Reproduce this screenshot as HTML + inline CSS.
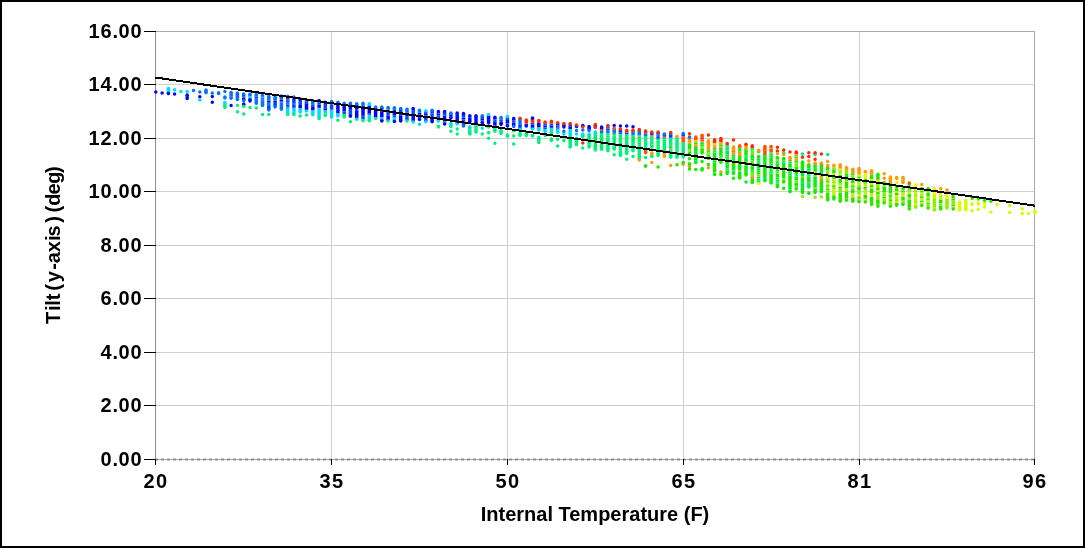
<!DOCTYPE html>
<html><head><meta charset="utf-8"><title>Tilt vs Internal Temperature</title>
<style>
html,body{margin:0;padding:0;background:#fff;}
body{width:1085px;height:548px;overflow:hidden;position:relative;}
#frame{position:absolute;left:0;top:0;width:1081px;height:544px;border:2px solid #000;background:#fff;}
svg{position:absolute;left:0;top:0;}
text{font-family:"Liberation Sans",Arial,sans-serif;font-weight:bold;font-size:20px;fill:#000;}
</style></head><body><div id="frame"></div>
<svg width="1085" height="548" viewBox="0 0 1085 548" shape-rendering="crispEdges">
<path d="M155 84.5H1034M155 138.5H1034M155 191.5H1034M155 245.5H1034M155 298.5H1034M155 352.5H1034M155 405.5H1034M331.5 31V459M507.5 31V459M683.5 31V459M859.5 31V459" stroke="#cfcfcf" stroke-width="1" fill="none"/>
<path d="M155 459.5H1034" stroke="#ababab" stroke-width="1"/>
<path d="M155 459.5H1034" stroke="#878787" stroke-width="1" stroke-dasharray="3 3"/>
<path d="M155 458.5H1034M155 460.5H1034" stroke="#cfcfcf" stroke-width="1" stroke-dasharray="3 3"/>
<path d="M155 31.5H1035M1034.5 31V459" stroke="#a8a8a8" stroke-width="1" fill="none"/>
<path d="M155.5 31V459" stroke="#8c8c8c" stroke-width="1"/>
<path d="M168.4 88.60V92.60M224.9 102.60V103.75M250.0 96.30V98.15M262.5 96.50V97.50M287.7 107.75V113.45M293.9 108.55V113.00M300.2 108.30V111.90M306.5 109.95V111.10M312.8 110.35V114.80M319.1 107.85V117.50M325.3 110.35V113.20M331.6 109.50V116.90M337.9 113.20V115.90M369.3 103.70V105.75M369.3 114.70V119.15M381.8 117.35V119.50M394.4 117.25V120.70M413.2 121.00V122.10M425.8 110.70V111.25M425.8 121.35V121.70M438.4 120.30V121.00M444.6 121.55V122.55M450.9 123.20V125.80M457.2 123.50V124.00M469.8 126.70V129.70M488.6 114.60V115.30M507.4 116.40V117.35M520.0 128.95V129.30M532.5 128.60V129.00M538.8 127.35V129.90M545.1 128.95V131.50M551.4 127.85V131.25M557.7 128.60V132.30M570.2 128.95V135.95M582.8 134.10V134.85M589.1 134.10V134.85M595.3 131.90V133.00" stroke="#00dcff" stroke-width="3.5" stroke-linecap="butt" fill="none" shape-rendering="auto"/>
<path d="M168.4 92.60V93.60M187.2 94.90V96.00M187.2 97.85V98.60M231.1 96.50V97.50M237.4 95.65V96.65M243.7 97.40V100.00M243.7 104.00V105.30M250.0 98.15V100.15M250.0 100.15V101.10M262.5 99.50V100.50M268.8 100.75V102.00M275.1 100.75V102.00M281.4 99.50V101.50M287.7 99.50V100.50M300.2 104.90V106.90M300.2 106.90V108.30M306.5 103.25V105.25M306.5 105.25V107.25M306.5 107.25V109.95M312.8 106.25V108.25M312.8 108.25V110.35M319.1 100.40V102.40M319.1 104.40V106.40M319.1 106.40V107.85M325.3 108.20V110.35M331.6 108.25V109.50M337.9 104.25V106.25M337.9 106.25V108.25M337.9 108.25V110.25M337.9 110.25V112.25M337.9 112.25V113.20M344.2 105.25V107.25M344.2 107.25V109.25M344.2 109.25V111.25M350.4 106.90V108.90M356.7 104.90V106.90M356.7 106.90V108.90M356.7 110.90V112.90M356.7 112.90V114.90M356.7 114.90V116.90M356.7 116.90V118.40M363.0 105.75V107.75M363.0 107.75V109.75M363.0 109.75V111.75M363.0 111.75V113.75M363.0 113.75V115.75M369.3 105.75V107.75M369.3 107.75V109.75M369.3 109.75V111.75M369.3 111.75V113.75M375.6 107.85V109.85M375.6 109.85V111.85M375.6 111.85V113.85M375.6 113.85V115.85M375.6 115.85V117.65M381.8 107.20V109.20M381.8 111.20V113.20M381.8 113.20V115.20M381.8 115.20V117.35M381.8 119.50V121.00M388.1 115.80V117.80M388.1 117.80V119.80M388.1 119.80V120.80M394.4 111.25V113.25M394.4 113.25V115.25M400.7 115.90V117.90M400.7 117.90V119.90M400.7 119.90V121.00M407.0 112.75V114.75M407.0 114.75V116.75M413.2 114.50V116.50M413.2 116.50V118.50M413.2 118.50V121.00M419.5 112.75V114.75M425.8 113.25V115.25M425.8 119.25V121.35M432.1 117.25V119.25M432.1 119.25V121.70M438.4 113.40V115.40M438.4 119.40V120.30M444.6 115.40V117.40M444.6 117.40V119.40M444.6 119.40V121.55M450.9 114.85V116.85M457.2 115.10V117.10M457.2 117.10V119.10M457.2 119.10V121.10M457.2 121.10V123.50M463.5 117.50V119.50M463.5 121.50V123.80M469.8 117.70V119.70M469.8 119.70V121.60M476.0 115.70V117.70M476.0 117.70V119.70M476.0 119.70V121.70M476.0 121.70V123.80M482.3 118.25V120.25M482.3 122.25V123.10M488.6 115.30V117.30M488.6 117.30V119.30M488.6 119.30V121.30M488.6 121.30V123.10M494.9 117.20V119.20M494.9 121.20V123.20M494.9 123.20V125.20M494.9 127.20V128.20M501.1 121.60V123.60M501.1 123.60V124.50M507.4 119.35V121.35M507.4 121.35V123.35M513.7 118.60V120.60M513.7 122.60V124.60M513.7 124.60V126.00M532.5 124.65V126.65M532.5 126.65V128.60M538.8 122.70V124.70M538.8 124.70V127.35M545.1 125.40V127.40M551.4 125.40V127.85M557.7 123.40V125.40M557.7 127.40V128.60M563.9 124.15V126.15M570.2 126.90V128.95M576.5 124.90V126.40M582.8 125.60V127.10M589.1 126.40V128.40M589.1 128.40V129.30M595.3 124.90V127.25M601.6 127.10V128.95" stroke="#0008ff" stroke-width="3.5" stroke-linecap="butt" fill="none" shape-rendering="auto"/>
<path d="M187.2 96.00V97.85M281.4 101.50V102.50M300.2 98.90V100.90M300.2 100.90V102.90M300.2 102.90V104.90M312.8 104.25V106.25M319.1 102.40V104.40M325.3 102.20V104.20M325.3 104.20V106.20M325.3 106.20V108.20M331.6 104.25V106.25M331.6 106.25V108.25M344.2 111.25V114.00M350.4 104.90V106.90M350.4 108.90V110.90M350.4 110.90V112.90M350.4 112.90V114.90M350.4 114.90V116.20M356.7 108.90V110.90M363.0 115.75V117.75M363.0 117.75V119.15M369.3 113.75V114.70M381.8 109.20V111.20M388.1 109.80V111.80M388.1 111.80V113.80M388.1 113.80V115.80M394.4 115.25V117.25M394.4 120.70V121.40M400.7 111.90V113.90M400.7 113.90V115.90M407.0 116.75V118.75M407.0 118.75V120.10M413.2 108.50V110.50M413.2 110.50V112.50M413.2 112.50V114.50M419.5 114.75V116.75M419.5 116.75V119.50M425.8 111.25V113.25M425.8 115.25V117.25M425.8 117.25V119.25M432.1 113.25V115.25M432.1 115.25V117.25M438.4 111.40V113.40M438.4 115.40V117.40M438.4 117.40V119.40M444.6 111.40V113.40M444.6 113.40V115.40M444.6 122.55V124.00M450.9 116.85V118.10M457.2 113.10V115.10M463.5 113.50V115.50M463.5 115.50V117.50M463.5 119.50V121.50M469.8 115.70V117.70M482.3 120.25V122.25M494.9 119.20V121.20M494.9 125.20V127.20M507.4 117.35V119.35M507.4 123.35V126.00M513.7 120.60V122.60M526.3 123.45V126.00M532.5 117.90V118.65M532.5 122.65V124.65M545.1 123.40V125.40M545.1 127.40V128.95M551.4 123.40V125.40M557.7 125.40V127.40M563.9 126.15V127.10M570.2 124.90V126.90" stroke="#0a48ff" stroke-width="3.5" stroke-linecap="butt" fill="none" shape-rendering="auto"/>
<path d="M206.0 90.10V92.70M218.6 92.70V93.40M224.9 97.10V97.90M231.1 92.60V94.60M231.1 94.60V96.50M231.1 97.50V98.20M237.4 96.65V98.65M243.7 96.10V97.40M250.0 94.10V96.30M256.3 94.50V96.50M256.3 98.50V100.50M256.3 100.50V102.50M262.5 95.20V96.50M262.5 97.50V99.50M262.5 100.50V102.50M262.5 102.50V104.50M268.8 96.30V98.30M268.8 98.30V100.75M268.8 102.00V104.00M268.8 104.00V106.00M275.1 97.10V99.10M275.1 99.10V100.75M275.1 106.00V107.00M281.4 97.90V99.50M281.4 102.50V104.50M281.4 104.50V106.50M281.4 106.50V109.20M287.7 102.50V104.50M287.7 106.50V107.75M293.9 97.10V99.10M293.9 103.10V105.10M293.9 107.10V108.55M312.8 100.70V102.70M312.8 102.70V104.25M331.6 101.50V104.25M337.9 102.20V104.25M344.2 103.30V105.25M356.7 103.70V104.90M363.0 103.30V105.75M375.6 107.10V107.85M381.8 107.00V107.20M388.1 107.40V109.80M394.4 107.70V109.70M407.0 109.20V111.20M407.0 111.20V112.75M419.5 110.30V112.75M501.1 117.50V119.50M520.0 119.00V121.00M520.0 121.00V123.00M520.0 123.00V125.00M601.6 130.80V133.00M607.9 126.40V128.40M607.9 130.40V132.40M607.9 132.40V133.50M614.2 129.10V131.10M614.2 131.10V133.70M620.4 132.05V134.60M633.0 130.95V132.95M633.0 132.95V135.05M639.3 130.30V132.30M639.3 132.30V134.30M639.3 134.30V135.50M645.6 133.25V135.95M658.1 134.35V136.35M670.7 133.00V135.00" stroke="#0a70ff" stroke-width="3.5" stroke-linecap="butt" fill="none" shape-rendering="auto"/>
<path d="M224.9 103.75V105.75M224.9 105.75V107.40M287.7 113.45V114.40M293.9 113.00V114.40M319.1 117.50V118.40M325.3 113.20V115.50M344.2 114.00V116.00M344.2 116.00V116.90M356.7 118.40V119.20M363.0 119.15V120.70M407.0 120.10V121.00M438.4 126.20V126.90M469.8 129.70V131.70M469.8 131.70V134.10M476.0 125.80V127.80M476.0 127.80V129.80M476.0 129.80V131.90M488.6 132.60V132.70M494.9 128.20V130.20M494.9 130.20V131.20M501.1 130.40V132.40M501.1 132.40V133.40M526.3 132.60V134.60M526.3 134.60V135.60M532.5 135.20V136.00M538.8 137.40V139.40M538.8 139.40V141.40M570.2 135.95V137.95M570.2 137.95V139.95M570.2 139.95V141.95M570.2 141.95V143.95M570.2 143.95V145.95M570.2 145.95V147.00M576.5 138.20V140.20M576.5 140.20V142.20M576.5 142.20V144.80M582.8 134.85V136.70M589.1 138.85V140.85M589.1 140.85V142.85M589.1 142.85V144.85M595.3 133.00V135.00M595.3 135.00V137.00M595.3 141.00V143.00M595.3 143.00V145.00M595.3 147.00V149.00M595.3 149.00V150.00M601.6 133.00V135.00M601.6 135.00V137.00M601.6 137.00V139.00M601.6 141.00V143.00M601.6 145.00V147.00M607.9 133.50V135.50M607.9 137.50V139.50M607.9 139.50V141.50M607.9 141.50V143.50M607.9 143.50V145.50M607.9 145.50V147.50M607.9 147.50V149.50M607.9 149.50V150.80M614.2 135.70V137.70M614.2 137.70V139.70M614.2 139.70V141.70M614.2 141.70V143.70M614.2 143.70V145.70M614.2 145.70V147.70M614.2 147.70V148.90M620.4 134.60V136.60M620.4 136.60V138.60M620.4 140.60V142.60M620.4 144.60V146.60M620.4 146.60V148.60M620.4 150.60V152.60M620.4 152.60V154.60M620.4 154.60V155.40M626.7 134.15V136.15M626.7 138.15V140.15M626.7 140.15V142.15M626.7 142.15V144.15M626.7 144.15V146.15M626.7 146.15V148.15M626.7 148.15V150.15M626.7 150.15V152.15M626.7 152.15V153.60M633.0 135.05V137.05M633.0 141.05V143.05M633.0 143.05V145.05M633.0 145.05V147.05M633.0 147.05V149.05M633.0 149.05V150.80M639.3 138.85V140.85M639.3 140.85V142.85M639.3 144.85V146.85M639.3 146.85V148.85M639.3 148.85V150.85M639.3 150.85V152.85M639.3 152.85V154.85M639.3 154.85V156.85M639.3 156.85V159.20M645.6 135.95V137.95M645.6 137.95V139.95M645.6 139.95V141.95M645.6 141.95V143.95M645.6 143.95V145.95M645.6 145.95V147.95M645.6 147.95V150.10M651.8 136.85V138.85M651.8 140.85V142.85M651.8 142.85V144.85M651.8 155.60V156.50M658.1 140.70V142.70M658.1 142.70V144.70M658.1 146.70V148.70M658.1 148.70V150.70M658.1 150.70V152.70M664.4 137.75V139.75M664.4 141.75V143.75M664.4 143.75V145.75M664.4 145.75V147.75M664.4 147.75V149.75M664.4 149.75V151.75M664.4 151.75V152.85M670.7 137.75V139.75M670.7 139.75V141.75M670.7 141.75V143.75M670.7 143.75V145.75M670.7 149.50V151.50M670.7 151.50V153.50M670.7 153.50V155.50M670.7 155.50V157.20M677.0 137.75V139.75M677.0 139.75V141.75M677.0 141.75V143.75M677.0 143.75V145.75M677.0 145.75V147.75M677.0 147.75V149.75M677.0 151.75V153.75M677.0 153.75V155.75M677.0 155.75V157.20M683.2 142.30V144.30M683.2 144.30V146.30M683.2 146.30V148.30M683.2 148.30V150.30M683.2 150.30V152.30M683.2 152.30V154.30M683.2 154.30V156.90M771.1 152.35V153.70M783.7 152.80V153.70M815.1 153.70V154.60" stroke="#00f27e" stroke-width="3.5" stroke-linecap="butt" fill="none" shape-rendering="auto"/>
<path d="M237.4 93.00V95.65M237.4 98.65V99.60M243.7 94.10V96.10M243.7 100.00V100.70M256.3 96.50V98.50M256.3 102.50V103.30M262.5 104.50V105.50M268.8 106.00V108.00M268.8 108.00V109.90M275.1 102.00V104.00M275.1 104.00V106.00M281.4 95.90V97.90M287.7 96.30V98.30M287.7 98.30V99.50M287.7 100.50V102.50M287.7 104.50V106.50M293.9 99.10V101.10M293.9 101.10V103.10M293.9 105.10V107.10M306.5 100.70V103.25M350.4 103.30V104.90M394.4 109.70V111.25M400.7 108.50V110.50M400.7 110.50V111.90M432.1 110.30V112.30M432.1 112.30V113.25M450.9 112.90V114.85M463.5 123.80V126.00M482.3 115.70V118.25M501.1 119.50V121.60M513.7 126.00V126.40M520.0 125.00V127.00M520.0 127.00V128.95M589.1 129.30V130.40M607.9 128.40V130.40M620.4 130.05V132.05M626.7 132.80V134.15M651.8 132.80V135.50M658.1 132.35V134.35M658.1 136.35V138.70M664.4 133.90V135.90M664.4 135.90V136.85M670.7 135.00V137.75M683.2 133.40V135.40M683.2 135.40V136.45M689.5 136.90V137.80" stroke="#0040ff" stroke-width="3.5" stroke-linecap="butt" fill="none" shape-rendering="auto"/>
<path d="M243.7 105.30V106.60M369.3 119.15V120.70M375.6 117.65V118.40M388.1 120.80V121.00M450.9 125.80V126.50M476.0 123.80V125.80M507.4 134.90V136.30M520.0 133.40V135.60M538.8 141.40V142.60M551.4 131.25V133.00M551.4 138.90V140.40M589.1 134.85V136.85M589.1 136.85V138.85M589.1 144.85V147.00M595.3 137.00V139.00M595.3 139.00V141.00M595.3 145.00V147.00M601.6 139.00V141.00M601.6 143.00V145.00M601.6 147.00V149.20M607.9 135.50V137.50M614.2 133.70V135.70M620.4 138.60V140.60M620.4 142.60V144.60M620.4 148.60V150.60M626.7 136.15V138.15M633.0 137.05V139.05M633.0 139.05V141.05M639.3 136.85V138.85M639.3 142.85V144.85M651.8 138.85V140.85M651.8 144.85V147.20M658.1 138.70V140.70M658.1 144.70V146.70M658.1 152.70V155.40M664.4 139.75V141.75M670.7 145.75V148.50M677.0 149.75V151.75" stroke="#00ec50" stroke-width="3.5" stroke-linecap="butt" fill="none" shape-rendering="auto"/>
<path d="M520.0 118.30V119.00M526.3 120.10V123.45M532.5 118.65V122.65M538.8 120.50V122.70M545.1 121.90V123.40M551.4 121.20V123.40M557.7 122.70V123.40M563.9 123.40V124.15M570.2 123.40V124.90M595.3 124.50V124.90M595.3 127.25V127.50M601.6 128.95V130.80M607.9 125.50V126.40M620.4 129.10V130.05M626.7 130.20V132.80M633.0 130.00V130.95M639.3 129.60V130.30M645.6 131.10V133.25M651.8 132.10V132.80M658.1 132.10V132.35M664.4 136.85V137.75M670.7 132.50V133.00M702.1 137.20V139.20M714.6 139.80V143.20M720.9 138.40V142.30M727.2 143.40V144.55M746.0 144.20V145.10M752.3 145.70V148.25M796.3 152.10V154.60M815.1 152.80V153.70" stroke="#ff2a00" stroke-width="3.5" stroke-linecap="butt" fill="none" shape-rendering="auto"/>
<path d="M614.2 128.20V129.10M645.6 150.10V152.70M683.2 136.45V138.45M683.2 138.45V140.45M683.2 140.45V142.30M695.8 137.10V139.10M695.8 139.10V140.25M702.1 135.20V137.20M702.1 139.20V141.20M739.7 145.70V147.80M764.9 146.60V148.60M764.9 148.60V150.60M764.9 150.60V152.60M764.9 152.60V155.05M771.1 148.60V150.60M771.1 150.60V152.35" stroke="#ff5200" stroke-width="3.5" stroke-linecap="butt" fill="none" shape-rendering="auto"/>
<path d="M639.3 135.50V136.85M689.5 165.95V166.40M695.8 142.25V144.25M714.6 147.20V149.20M720.9 144.30V146.30M739.7 147.80V149.80M739.7 149.80V151.80M771.1 153.70V155.50M796.3 156.60V158.60M871.6 174.70V176.90M903.0 177.50V179.50M903.0 181.50V182.60" stroke="#30e400" stroke-width="3.5" stroke-linecap="butt" fill="none" shape-rendering="auto"/>
<path d="M639.3 159.20V160.10M651.8 153.00V155.60M664.4 152.85V154.85M689.5 139.80V141.80M689.5 141.80V143.60M695.8 144.25V146.90M708.4 140.70V142.70M708.4 142.70V144.70M708.4 144.70V146.70M708.4 146.70V148.70M708.4 148.70V150.50M714.6 145.20V147.20M720.9 142.30V144.30M720.9 146.30V147.80M733.5 147.10V149.10M733.5 149.10V151.10M739.7 151.80V153.80M739.7 153.80V156.00M746.0 145.10V147.10M746.0 147.10V149.15M758.6 150.20V152.75M783.7 153.70V154.60M796.3 154.60V156.60M796.3 158.60V160.50M815.1 163.00V165.05M827.7 165.50V166.45M840.2 164.80V166.80M840.2 166.80V168.70M846.5 167.50V170.05M852.8 171.30V173.20M859.0 170.40V172.40M859.0 172.40V174.60M865.3 171.60V172.75M871.6 170.70V172.70M871.6 172.70V174.70M890.4 177.10V179.10M890.4 179.10V181.10M890.4 181.10V183.30M896.7 177.50V178.50M903.0 179.50V181.50" stroke="#ff9a00" stroke-width="3.5" stroke-linecap="butt" fill="none" shape-rendering="auto"/>
<path d="M645.6 165.80V166.30M683.2 162.60V163.30M689.5 143.60V145.60M689.5 145.60V147.60M689.5 147.60V149.60M689.5 151.60V153.90M695.8 146.90V148.90M695.8 148.90V150.90M695.8 152.90V154.90M695.8 156.90V158.90M695.8 158.90V160.35M702.1 144.30V146.30M702.1 148.30V150.30M702.1 150.30V153.10M702.1 168.40V169.90M708.4 150.50V152.50M708.4 154.50V156.50M714.6 152.50V154.50M714.6 154.50V156.50M714.6 156.50V158.50M714.6 162.50V164.50M714.6 164.50V166.50M714.6 166.50V168.50M714.6 168.50V170.50M714.6 170.50V172.50M720.9 147.80V149.80M720.9 149.80V151.80M720.9 151.80V153.80M720.9 153.80V155.80M727.2 154.55V156.55M727.2 158.55V160.55M727.2 164.55V166.55M727.2 166.55V168.55M727.2 170.55V172.55M727.2 172.55V173.50M733.5 154.40V156.40M733.5 158.40V160.40M733.5 162.40V164.40M733.5 164.40V166.40M733.5 166.40V168.40M733.5 168.40V170.40M733.5 172.40V173.50M739.7 156.00V158.00M739.7 158.00V160.00M739.7 160.00V162.00M739.7 162.00V164.00M739.7 164.00V166.00M739.7 166.00V168.00M739.7 174.00V176.00M739.7 176.00V178.10M746.0 149.15V151.15M746.0 151.15V153.15M746.0 153.15V155.15M746.0 157.15V159.15M746.0 159.15V161.15M746.0 165.15V167.15M746.0 167.15V169.15M746.0 169.15V171.15M746.0 171.15V173.15M746.0 173.15V174.90M752.3 154.25V156.25M752.3 156.25V158.25M752.3 162.25V164.25M752.3 166.25V168.25M752.3 168.25V170.25M752.3 178.25V180.25M752.3 180.25V182.50M758.6 156.60V158.60M758.6 168.60V170.60M758.6 172.60V174.60M758.6 176.60V178.60M764.9 157.05V159.05M764.9 159.05V161.05M764.9 161.05V163.05M764.9 165.05V167.05M764.9 167.05V169.05M764.9 171.05V173.05M764.9 173.05V175.05M764.9 175.05V177.05M771.1 157.50V159.50M771.1 159.50V161.50M771.1 161.50V163.50M771.1 165.50V167.50M771.1 167.50V169.50M771.1 173.50V175.50M771.1 175.50V177.50M771.1 177.50V179.50M771.1 179.50V181.50M777.4 157.50V159.50M777.4 163.50V165.50M777.4 165.50V167.50M777.4 169.50V171.50M777.4 173.50V175.50M777.4 175.50V177.50M777.4 179.50V181.50M777.4 183.50V185.50M777.4 185.50V186.70M783.7 162.40V164.40M783.7 164.40V166.40M783.7 166.40V168.40M783.7 170.40V172.40M783.7 172.40V174.40M783.7 174.40V176.40M783.7 176.40V178.40M790.0 163.60V165.60M790.0 165.60V167.60M790.0 171.60V173.60M790.0 175.60V177.60M790.0 177.60V179.60M790.0 179.60V181.60M790.0 181.60V183.60M790.0 183.60V185.60M790.0 185.60V187.60M790.0 187.60V189.60M796.3 160.50V162.50M796.3 166.50V168.50M796.3 168.50V170.50M796.3 170.50V172.50M796.3 172.50V174.50M796.3 176.50V178.50M796.3 178.50V180.50M796.3 182.50V184.50M796.3 184.50V186.50M802.5 164.10V166.10M802.5 166.10V168.10M802.5 168.10V170.10M802.5 172.10V174.10M802.5 178.10V180.10M802.5 180.10V182.10M802.5 186.10V188.10M802.5 190.10V192.60M808.8 164.80V166.80M808.8 166.80V168.80M808.8 176.80V178.80M808.8 178.80V180.80M808.8 180.80V182.80M808.8 193.00V193.50M815.1 165.05V167.05M815.1 169.05V171.05M815.1 181.05V183.05M815.1 183.05V185.05M815.1 185.05V187.05M815.1 189.05V191.05M815.1 191.05V192.60M821.4 165.05V167.05M821.4 167.05V169.05M821.4 169.05V171.05M821.4 173.05V175.05M821.4 181.05V183.05M821.4 183.05V185.05M821.4 185.05V187.05M821.4 187.05V189.05M877.9 174.30V176.30M877.9 176.30V178.30M877.9 178.30V179.15" stroke="#14ec00" stroke-width="3.5" stroke-linecap="butt" fill="none" shape-rendering="auto"/>
<path d="M651.8 135.50V136.85M670.7 148.50V149.50M677.0 136.60V137.75M683.2 163.30V164.20M689.5 137.80V139.80M714.6 149.20V150.50M733.5 151.10V152.40M790.0 157.50V159.60M821.4 163.00V165.05M852.8 169.30V171.30M859.0 168.40V170.40M877.9 179.15V180.05" stroke="#ff6e00" stroke-width="3.5" stroke-linecap="butt" fill="none" shape-rendering="auto"/>
<path d="M664.4 154.85V156.30M695.8 140.25V142.25M714.6 143.20V145.20M833.9 165.20V167.35" stroke="#ffc000" stroke-width="3.5" stroke-linecap="butt" fill="none" shape-rendering="auto"/>
<path d="M689.5 149.60V151.60M702.1 146.30V148.30M708.4 152.50V154.50M714.6 172.50V174.40M720.9 157.80V159.80M720.9 159.80V162.20M739.7 170.00V172.00M746.0 163.15V165.15M752.3 150.25V152.25M752.3 152.25V154.25M752.3 160.25V162.25M752.3 172.25V174.25M752.3 174.25V176.25M758.6 174.60V176.60M777.4 159.50V161.50M777.4 171.50V173.50M783.7 178.40V180.40M783.7 180.40V181.90M796.3 162.50V164.50M796.3 164.50V166.50M796.3 180.50V182.50M796.3 186.50V188.90M802.5 176.10V178.10M815.1 171.05V173.05M815.1 175.05V177.05M815.1 187.05V189.05M821.4 177.05V179.05" stroke="#7aee00" stroke-width="3.5" stroke-linecap="butt" fill="none" shape-rendering="auto"/>
<path d="M689.5 163.80V165.95M714.6 158.50V160.50M733.5 152.40V154.40M752.3 176.25V178.25M783.7 168.40V170.40M790.0 159.60V161.60M821.4 175.05V177.05M821.4 179.05V181.05" stroke="#ff8a00" stroke-width="3.5" stroke-linecap="butt" fill="none" shape-rendering="auto"/>
<path d="M695.8 150.90V152.90M695.8 160.35V162.50M714.6 150.50V152.50M720.9 155.80V157.80M727.2 146.55V148.55M727.2 148.55V150.55M727.2 168.55V170.55M733.5 170.40V172.40M746.0 155.15V157.15M752.3 148.25V150.25M752.3 170.25V172.25M758.6 160.60V162.60M758.6 178.60V180.60M764.9 177.05V179.05M771.1 171.50V173.50M777.4 167.50V169.50M777.4 181.50V183.50M783.7 160.40V162.40M790.0 161.60V163.60M790.0 167.60V169.60M790.0 189.60V191.70M796.3 174.50V176.50M802.5 170.10V172.10M802.5 182.10V184.10M808.8 170.80V172.80M808.8 174.80V176.80M808.8 182.80V184.80M808.8 184.80V187.10M815.1 167.05V169.05" stroke="#00f07a" stroke-width="3.5" stroke-linecap="butt" fill="none" shape-rendering="auto"/>
<path d="M695.8 154.90V156.90M702.1 142.30V144.30M708.4 156.50V158.60M714.6 160.50V162.50M727.2 144.55V146.55M727.2 150.55V152.55M727.2 152.55V154.55M727.2 156.55V158.55M727.2 160.55V162.55M727.2 162.55V164.55M733.5 156.40V158.40M733.5 160.40V162.40M739.7 168.00V170.00M739.7 172.00V174.00M746.0 161.15V163.15M752.3 158.25V160.25M752.3 164.25V166.25M758.6 158.60V160.60M758.6 162.60V164.60M758.6 164.60V166.60M758.6 166.60V168.60M758.6 170.60V172.60M758.6 180.60V183.25M764.9 155.05V157.05M764.9 163.05V165.05M764.9 169.05V171.05M764.9 179.05V180.70M771.1 155.50V157.50M771.1 163.50V165.50M771.1 169.50V171.50M771.1 181.50V183.00M777.4 161.50V163.50M777.4 177.50V179.50M783.7 158.40V160.40M790.0 169.60V171.60M790.0 173.60V175.60M802.5 162.10V164.10M802.5 174.10V176.10M802.5 184.10V186.10M802.5 188.10V190.10M808.8 168.80V170.80M808.8 172.80V174.80M815.1 173.05V175.05M815.1 177.05V179.05M815.1 179.05V181.05M821.4 171.05V173.05M821.4 189.05V191.70" stroke="#00ec34" stroke-width="3.5" stroke-linecap="butt" fill="none" shape-rendering="auto"/>
<path d="M702.1 141.20V142.30M771.1 146.60V148.60M909.3 183.00V183.70" stroke="#ff8c00" stroke-width="3.5" stroke-linecap="butt" fill="none" shape-rendering="auto"/>
<path d="M758.6 183.25V183.60M865.3 172.75V178.70M915.6 184.80V186.40M934.4 188.40V195.05M940.7 194.60V195.55M947.0 194.80V198.75" stroke="#fff000" stroke-width="3.5" stroke-linecap="butt" fill="none" shape-rendering="auto"/>
<path d="M827.7 166.45V168.45M827.7 168.45V170.45M827.7 180.45V182.45M827.7 184.45V186.45M827.7 188.45V190.45M827.7 192.45V194.45M827.7 194.45V196.45M827.7 196.45V198.45M827.7 198.45V199.90M833.9 169.35V171.35M833.9 171.35V173.35M833.9 177.35V179.35M833.9 185.35V187.35M833.9 195.35V197.35M833.9 197.35V198.90M840.2 174.70V176.70M840.2 178.70V180.70M840.2 180.70V182.70M840.2 186.70V188.70M840.2 192.70V194.70M840.2 194.70V196.70M840.2 196.70V198.70M840.2 198.70V201.20M846.5 174.05V176.05M846.5 176.05V178.05M846.5 178.05V180.05M846.5 182.05V184.05M846.5 184.05V186.05M846.5 186.05V188.05M846.5 192.05V194.05M846.5 194.05V196.05M846.5 196.05V198.05M852.8 173.20V175.20M852.8 177.20V179.20M852.8 179.20V181.20M852.8 181.20V183.20M852.8 185.20V187.20M852.8 189.20V191.20M852.8 191.20V193.20M852.8 197.20V199.20M852.8 199.20V201.20M859.0 176.60V178.60M859.0 180.60V182.60M859.0 186.60V188.60M859.0 188.60V190.60M859.0 196.60V198.60M859.0 200.60V201.70M865.3 178.70V180.70M865.3 180.70V182.70M865.3 186.70V188.70M865.3 194.70V196.70M865.3 196.70V198.70M871.6 176.90V178.90M871.6 184.90V186.90M871.6 188.90V190.90M871.6 190.90V192.90M871.6 196.90V198.90M871.6 198.90V200.90M871.6 200.90V202.90M877.9 182.05V184.05M877.9 188.05V190.05M877.9 192.05V194.05M877.9 200.05V202.05M877.9 202.05V204.05M884.2 182.60V184.60M884.2 186.60V188.60M884.2 188.60V190.60M884.2 190.60V192.60M884.2 196.60V198.60M890.4 183.30V185.30M890.4 185.30V187.30M890.4 187.30V189.30M890.4 189.30V191.30M890.4 191.30V193.30M890.4 195.30V197.30M890.4 199.30V201.30M896.7 189.10V191.10M896.7 193.10V195.10M896.7 203.10V205.30M903.0 190.40V192.40M903.0 196.40V198.40M903.0 198.40V200.40M903.0 202.40V204.50M909.3 183.70V185.70M909.3 187.70V189.70M909.3 193.70V195.70M909.3 195.70V197.70M909.3 199.70V201.70M909.3 201.70V203.70M909.3 203.70V205.70M909.3 205.70V207.70M921.8 190.40V192.40M921.8 196.40V198.40M921.8 200.40V202.40M928.1 188.40V190.40M928.1 192.40V194.40M928.1 194.40V196.40M928.1 198.40V200.40M928.1 202.40V204.40M940.7 199.55V201.55M940.7 201.55V203.55M940.7 205.55V207.55M940.7 207.55V209.00M953.2 198.60V200.60M953.2 204.60V206.60" stroke="#2ae600" stroke-width="3.5" stroke-linecap="butt" fill="none" shape-rendering="auto"/>
<path d="M827.7 170.45V172.45M827.7 172.45V174.45M827.7 174.45V176.45M827.7 178.45V180.45M827.7 186.45V188.45M827.7 190.45V192.45M833.9 167.35V169.35M833.9 175.35V177.35M833.9 181.35V183.35M833.9 187.35V189.35M840.2 170.70V172.70M840.2 182.70V184.70M840.2 188.70V190.70M840.2 190.70V192.70M846.5 170.05V172.05M846.5 172.05V174.05M846.5 180.05V182.05M846.5 190.05V192.05M846.5 198.05V200.30M852.8 175.20V177.20M852.8 187.20V189.20M859.0 184.60V186.60M859.0 190.60V192.60M859.0 192.60V194.60M859.0 198.60V200.60M865.3 182.70V184.70M865.3 188.70V190.70M871.6 180.90V182.90M871.6 202.90V204.40M877.9 184.05V186.05M877.9 186.05V188.05M877.9 194.05V196.05M877.9 196.05V198.05M877.9 198.05V200.05M877.9 204.05V206.20M884.2 184.60V186.60M884.2 192.60V194.60M884.2 194.60V196.60M884.2 198.60V200.60M884.2 200.60V203.00M890.4 193.30V195.30M890.4 197.30V199.30M890.4 201.30V203.30M890.4 203.30V205.30M890.4 205.30V206.20M896.7 187.10V189.10M896.7 199.10V201.10M903.0 200.40V202.40M909.3 189.70V191.70M909.3 197.70V199.70M921.8 194.40V196.40M921.8 204.40V205.40M928.1 190.40V192.40M928.1 196.40V198.40M928.1 204.40V206.40M940.7 195.55V197.55M940.7 203.55V205.55M953.2 196.60V198.60M953.2 200.60V202.60M953.2 202.60V204.60" stroke="#8aee00" stroke-width="3.5" stroke-linecap="butt" fill="none" shape-rendering="auto"/>
<path d="M827.7 176.45V178.45M827.7 182.45V184.45M833.9 173.35V175.35M833.9 179.35V181.35M833.9 183.35V185.35M833.9 189.35V191.35M833.9 191.35V193.35M833.9 193.35V195.35M840.2 168.70V170.70M840.2 172.70V174.70M840.2 176.70V178.70M840.2 184.70V186.70M846.5 188.05V190.05M852.8 183.20V185.20M852.8 193.20V195.20M852.8 195.20V197.20M859.0 174.60V176.60M859.0 178.60V180.60M859.0 182.60V184.60M859.0 194.60V196.60M865.3 184.70V186.70M865.3 190.70V192.70M865.3 192.70V194.70M865.3 198.70V200.70M865.3 200.70V202.10M871.6 178.90V180.90M871.6 182.90V184.90M871.6 186.90V188.90M871.6 192.90V194.90M871.6 194.90V196.90M877.9 180.05V182.05M877.9 190.05V192.05M896.7 191.10V193.10M896.7 195.10V197.10M896.7 197.10V199.10M896.7 201.10V203.10M903.0 188.40V190.40M903.0 192.40V194.40M903.0 194.40V196.40M909.3 185.70V187.70M909.3 191.70V193.70M909.3 207.70V209.00M921.8 188.40V190.40M921.8 192.40V194.40M921.8 198.40V200.40M921.8 202.40V204.40M928.1 200.40V202.40M928.1 206.40V208.10M940.7 197.55V199.55M953.2 206.60V209.00" stroke="#c8f200" stroke-width="3.5" stroke-linecap="butt" fill="none" shape-rendering="auto"/>
<path d="M915.6 186.40V188.40M915.6 188.40V190.40M915.6 192.40V194.40M915.6 196.40V198.40M915.6 198.40V200.40M915.6 202.40V204.40M915.6 204.40V206.40M915.6 206.40V207.20M934.4 195.05V197.05M934.4 197.05V199.05M934.4 207.05V209.05M947.0 206.75V208.10" stroke="#c8f400" stroke-width="3.5" stroke-linecap="butt" fill="none" shape-rendering="auto"/>
<path d="M915.6 190.40V192.40M915.6 194.40V196.40M915.6 200.40V202.40M934.4 199.05V201.05M934.4 201.05V203.05M934.4 203.05V205.05M934.4 205.05V207.05M934.4 209.05V209.90M947.0 198.75V200.75M947.0 200.75V202.75M947.0 202.75V204.75M947.0 204.75V206.75" stroke="#90ee00" stroke-width="3.5" stroke-linecap="butt" fill="none" shape-rendering="auto"/>
<path d="M959.5 202.10V209.90M965.8 200.30V209.90M972.1 203.70V204.40M978.3 203.10V203.90M1034.9 211.00V212.50" stroke="#d7fc00" stroke-width="3.5" stroke-linecap="butt" fill="none" shape-rendering="auto"/>
<path d="M155.8 92.10V92.10M155.8 92.10V92.10M162.1 93.10V93.10M162.1 93.10V93.10M168.4 93.60V93.60M174.6 94.00V94.00M174.6 94.00V94.00M187.2 94.90V94.90M187.2 98.60V98.60M199.8 96.70V96.70M199.8 96.70V96.70M212.3 96.40V96.40M212.3 96.40V96.40M212.3 102.30V102.30M212.3 102.30V102.30M231.1 105.50V105.50M231.1 105.50V105.50M243.7 104.00V104.00M250.0 101.10V101.10M300.2 98.90V98.90M319.1 100.40V100.40M325.3 102.20V102.20M350.4 116.20V116.20M381.8 121.00V121.00M394.4 121.40V121.40M400.7 121.00V121.00M413.2 108.50V108.50M419.5 119.50V119.50M432.1 121.70V121.70M438.4 111.40V111.40M444.6 111.40V111.40M444.6 124.00V124.00M450.9 118.10V118.10M457.2 113.10V113.10M463.5 113.50V113.50M469.8 115.70V115.70M469.8 121.60V121.60M476.0 115.70V115.70M482.3 123.10V123.10M488.6 123.10V123.10M494.9 117.20V117.20M501.1 124.50V124.50M507.4 126.00V126.00M513.7 118.60V118.60M526.3 126.00V126.00M532.5 117.90V117.90M563.9 127.10V127.10M576.5 126.40V126.40M582.8 125.60V125.60M589.1 126.40V126.40M601.6 127.10V127.10M614.2 125.50V125.50M614.2 125.50V125.50M620.4 125.90V125.90M620.4 125.90V125.90M626.7 125.90V125.90M626.7 125.90V125.90M633.0 126.80V126.80M633.0 126.80V126.80" stroke="#0008ff" stroke-width="3.5" stroke-linecap="round" fill="none" shape-rendering="auto"/>
<path d="M168.4 88.60V88.60M174.6 89.70V89.70M174.6 89.70V89.70M180.9 91.40V91.40M180.9 91.40V91.40M187.2 91.60V91.60M187.2 91.60V91.60M199.8 99.90V99.90M199.8 99.90V99.90M224.9 102.60V102.60M300.2 111.90V111.90M306.5 111.10V111.10M312.8 114.80V114.80M331.6 116.90V116.90M337.9 115.90V115.90M369.3 103.70V103.70M413.2 122.10V122.10M419.5 124.35V124.35M419.5 124.35V124.35M425.8 110.70V110.70M425.8 121.70V121.70M438.4 121.00V121.00M450.9 123.20V123.20M457.2 124.00V124.00M469.8 126.70V126.70M482.3 128.20V128.20M482.3 128.20V128.20M488.6 114.60V114.60M507.4 116.40V116.40M520.0 129.30V129.30M532.5 129.00V129.00M538.8 129.90V129.90M545.1 131.50V131.50M557.7 132.30V132.30M563.9 134.10V134.10M563.9 134.10V134.10M576.5 134.10V134.10M576.5 134.10V134.10M582.8 134.10V134.10M589.1 134.10V134.10M595.3 131.90V131.90" stroke="#00dcff" stroke-width="3.5" stroke-linecap="round" fill="none" shape-rendering="auto"/>
<path d="M193.5 90.50V90.50M193.5 90.50V90.50M199.8 91.90V91.90M199.8 91.90V91.90M206.0 90.10V90.10M206.0 92.70V92.70M212.3 93.00V93.00M212.3 93.00V93.00M218.6 92.70V92.70M218.6 93.40V93.40M224.9 91.60V91.60M224.9 91.60V91.60M224.9 97.10V97.10M224.9 97.90V97.90M231.1 92.60V92.60M231.1 98.20V98.20M237.4 93.00V93.00M237.4 99.60V99.60M243.7 94.10V94.10M243.7 100.70V100.70M250.0 94.10V94.10M256.3 94.50V94.50M256.3 103.30V103.30M262.5 95.20V95.20M262.5 105.50V105.50M268.8 96.30V96.30M268.8 109.90V109.90M275.1 97.10V97.10M275.1 107.00V107.00M281.4 95.90V95.90M281.4 109.20V109.20M287.7 96.30V96.30M293.9 97.10V97.10M306.5 100.70V100.70M312.8 100.70V100.70M331.6 101.50V101.50M337.9 102.20V102.20M344.2 103.30V103.30M350.4 103.30V103.30M356.7 103.70V103.70M363.0 103.30V103.30M375.6 107.10V107.10M381.8 107.00V107.00M388.1 107.40V107.40M394.4 107.70V107.70M400.7 108.50V108.50M407.0 109.20V109.20M419.5 110.30V110.30M432.1 110.30V110.30M450.9 112.90V112.90M463.5 126.00V126.00M482.3 115.70V115.70M501.1 117.50V117.50M513.7 126.40V126.40M563.9 131.20V131.20M563.9 131.20V131.20M576.5 130.40V130.40M576.5 130.40V130.40M582.8 130.00V130.00M582.8 130.00V130.00M589.1 130.40V130.40M664.4 133.90V133.90M683.2 133.40V133.40M689.5 136.90V136.90" stroke="#0a70ff" stroke-width="3.5" stroke-linecap="round" fill="none" shape-rendering="auto"/>
<path d="M224.9 107.40V107.40M237.4 105.20V105.20M237.4 105.20V105.20M237.4 111.80V111.80M237.4 111.80V111.80M243.7 106.60V106.60M243.7 113.90V113.90M243.7 113.90V113.90M250.0 107.40V107.40M250.0 107.40V107.40M256.3 108.00V108.00M256.3 108.00V108.00M262.5 114.40V114.40M262.5 114.40V114.40M268.8 114.40V114.40M268.8 114.40V114.40M287.7 114.40V114.40M293.9 114.40V114.40M300.2 115.90V115.90M300.2 115.90V115.90M306.5 115.10V115.10M306.5 115.10V115.10M319.1 118.40V118.40M325.3 115.50V115.50M337.9 120.30V120.30M337.9 120.30V120.30M344.2 116.90V116.90M350.4 121.80V121.80M350.4 121.80V121.80M356.7 119.20V119.20M363.0 120.70V120.70M369.3 120.70V120.70M375.6 118.40V118.40M388.1 121.00V121.00M407.0 121.00V121.00M438.4 126.20V126.20M438.4 126.90V126.90M450.9 126.50V126.50M450.9 131.30V131.30M450.9 131.30V131.30M457.2 129.00V129.00M457.2 129.00V129.00M457.2 134.00V134.00M457.2 134.00V134.00M469.8 134.10V134.10M476.0 131.90V131.90M482.3 134.10V134.10M482.3 134.10V134.10M488.6 127.10V127.10M488.6 127.10V127.10M488.6 132.60V132.60M488.6 132.70V132.70M488.6 138.20V138.20M488.6 138.20V138.20M494.9 131.20V131.20M494.9 143.30V143.30M494.9 143.30V143.30M501.1 130.40V130.40M501.1 133.40V133.40M507.4 134.90V134.90M507.4 136.30V136.30M513.7 130.80V130.80M513.7 130.80V130.80M513.7 136.00V136.00M513.7 136.00V136.00M513.7 144.10V144.10M513.7 144.10V144.10M520.0 133.40V133.40M520.0 135.60V135.60M526.3 132.60V132.60M526.3 135.60V135.60M532.5 135.20V135.20M532.5 136.00V136.00M538.8 137.40V137.40M538.8 142.60V142.60M545.1 135.60V135.60M545.1 135.60V135.60M551.4 133.00V133.00M551.4 138.90V138.90M551.4 140.40V140.40M557.7 139.25V139.25M557.7 139.25V139.25M557.7 145.90V145.90M557.7 145.90V145.90M563.9 140.40V140.40M563.9 140.40V140.40M570.2 147.00V147.00M576.5 138.20V138.20M576.5 144.80V144.80M582.8 136.70V136.70M582.8 148.10V148.10M582.8 148.10V148.10M589.1 147.00V147.00M595.3 150.00V150.00M601.6 149.20V149.20M607.9 150.80V150.80M614.2 148.90V148.90M614.2 154.70V154.70M614.2 154.70V154.70M620.4 155.40V155.40M626.7 153.60V153.60M626.7 159.20V159.20M626.7 159.20V159.20M633.0 150.80V150.80M633.0 156.50V156.50M633.0 156.50V156.50M645.6 157.40V157.40M645.6 157.40V157.40M651.8 147.20V147.20M651.8 156.50V156.50M658.1 155.40V155.40M670.7 157.20V157.20M677.0 157.20V157.20M683.2 156.90V156.90M758.6 151.38V151.38M783.7 152.80V152.80M802.5 154.10V154.10M802.5 154.10V154.10M815.1 154.60V154.60M827.7 154.60V154.60M827.7 154.60V154.60" stroke="#00f27e" stroke-width="3.5" stroke-linecap="round" fill="none" shape-rendering="auto"/>
<path d="M520.0 118.30V118.30M526.3 120.10V120.10M538.8 120.50V120.50M545.1 121.90V121.90M551.4 121.20V121.20M557.7 122.70V122.70M563.9 123.40V123.40M570.2 123.40V123.40M576.5 124.90V124.90M582.8 126.90V126.90M582.8 143.00V143.00M582.8 143.00V143.00M595.3 124.50V124.50M595.3 127.50V127.50M607.9 125.50V125.50M620.4 129.10V129.10M626.7 130.20V130.20M633.0 130.00V130.00M639.3 129.60V129.60M645.6 131.10V131.10M651.8 132.10V132.10M658.1 132.10V132.10M670.7 132.50V132.50M689.5 133.70V133.70M689.5 133.70V133.70M708.4 135.00V135.00M708.4 135.00V135.00M714.6 139.80V139.80M720.9 138.40V138.40M727.2 143.40V143.40M733.5 140.00V140.00M733.5 140.00V140.00M746.0 144.20V144.20M752.3 145.70V145.70M777.4 147.30V147.30M777.4 147.30V147.30M777.4 151.00V151.00M777.4 151.00V151.00M783.7 150.00V150.00M783.7 150.00V150.00M790.0 151.90V151.90M790.0 151.90V151.90M796.3 152.10V152.10M802.5 157.30V157.30M802.5 157.30V157.30M808.8 152.80V152.80M808.8 152.80V152.80M808.8 156.40V156.40M808.8 156.40V156.40M815.1 152.80V152.80M815.1 159.20V159.20M815.1 159.20V159.20M821.4 154.10V154.10M821.4 154.10V154.10" stroke="#ff2a00" stroke-width="3.5" stroke-linecap="round" fill="none" shape-rendering="auto"/>
<path d="M614.2 128.20V128.20M645.6 152.70V152.70M695.8 137.10V137.10M702.1 135.20V135.20M739.7 145.70V145.70M764.9 146.60V146.60M771.1 146.60V146.60M909.3 183.00V183.00" stroke="#ff5200" stroke-width="3.5" stroke-linecap="round" fill="none" shape-rendering="auto"/>
<path d="M639.3 160.10V160.10M651.8 153.00V153.00M651.8 162.40V162.40M651.8 162.40V162.40M664.4 156.30V156.30M670.7 165.60V165.60M670.7 165.60V165.60M677.0 136.60V136.60M683.2 164.20V164.20M689.5 166.40V166.40M708.4 140.70V140.70M708.4 167.80V167.80M708.4 167.80V167.80M720.9 171.90V171.90M720.9 171.90V171.90M733.5 147.10V147.10M758.6 150.20V150.20M777.4 153.70V153.70M777.4 153.70V153.70M783.7 154.60V154.60M790.0 157.50V157.50M808.8 161.00V161.00M808.8 161.00V161.00M815.1 163.00V163.00M821.4 163.00V163.00M827.7 161.40V161.40M827.7 161.40V161.40M827.7 165.50V165.50M833.9 165.20V165.20M840.2 164.80V164.80M846.5 167.50V167.50M852.8 169.30V169.30M859.0 168.40V168.40M865.3 171.60V171.60M871.6 170.70V170.70M884.2 173.70V173.70M884.2 173.70V173.70M884.2 178.30V178.30M884.2 178.30V178.30M890.4 177.10V177.10M896.7 177.50V177.50M896.7 178.50V178.50M903.0 177.50V177.50M903.0 182.60V182.60M921.8 184.60V184.60M921.8 184.60V184.60M940.7 188.70V188.70M940.7 188.70V188.70M947.0 190.10V190.10M947.0 190.10V190.10" stroke="#ff9a00" stroke-width="3.5" stroke-linecap="round" fill="none" shape-rendering="auto"/>
<path d="M645.6 165.80V165.80M645.6 166.30V166.30M658.1 167.00V167.00M658.1 167.00V167.00M677.0 164.70V164.70M677.0 164.70V164.70M683.2 162.60V162.60M689.5 153.90V153.90M689.5 158.80V158.80M689.5 158.80V158.80M689.5 163.80V163.80M689.5 169.10V169.10M689.5 169.10V169.10M695.8 162.50V162.50M695.8 169.60V169.60M695.8 169.60V169.60M702.1 153.10V153.10M702.1 161.40V161.40M702.1 161.40V161.40M702.1 168.40V168.40M702.1 169.90V169.90M708.4 158.60V158.60M708.4 164.60V164.60M708.4 164.60V164.60M714.6 174.40V174.40M720.9 162.20V162.20M720.9 174.60V174.60M720.9 174.60V174.60M727.2 173.50V173.50M733.5 173.50V173.50M733.5 178.20V178.20M733.5 178.20V178.20M739.7 178.10V178.10M746.0 174.90V174.90M746.0 182.00V182.00M746.0 182.00V182.00M752.3 182.50V182.50M758.6 156.60V156.60M764.9 180.70V180.70M771.1 183.00V183.00M777.4 157.50V157.50M777.4 186.70V186.70M783.7 158.40V158.40M783.7 181.90V181.90M783.7 188.20V188.20M783.7 188.20V188.20M790.0 191.70V191.70M796.3 188.90V188.90M802.5 162.10V162.10M802.5 192.60V192.60M808.8 164.80V164.80M808.8 187.10V187.10M808.8 193.00V193.00M808.8 193.50V193.50M815.1 192.60V192.60M821.4 191.70V191.70M877.9 174.30V174.30M972.1 198.30V198.30M972.1 198.30V198.30M978.3 199.00V199.00M978.3 199.00V199.00M984.6 200.40V200.40M984.6 200.40V200.40M990.9 201.20V201.20M990.9 201.20V201.20" stroke="#14ec00" stroke-width="3.5" stroke-linecap="round" fill="none" shape-rendering="auto"/>
<path d="M758.6 183.60V183.60M896.7 182.40V182.40M896.7 182.40V182.40M915.6 184.80V184.80M934.4 188.40V188.40M940.7 194.60V194.60M947.0 194.80V194.80" stroke="#fff000" stroke-width="3.5" stroke-linecap="round" fill="none" shape-rendering="auto"/>
<path d="M802.5 196.40V196.40M802.5 196.40V196.40M815.1 197.30V197.30M815.1 197.30V197.30M821.4 196.90V196.90M821.4 196.90V196.90" stroke="#8cf000" stroke-width="3.5" stroke-linecap="round" fill="none" shape-rendering="auto"/>
<path d="M827.7 199.90V199.90M833.9 198.90V198.90M840.2 201.20V201.20M846.5 200.30V200.30M852.8 201.20V201.20M859.0 201.70V201.70M865.3 202.10V202.10M871.6 204.40V204.40M877.9 206.20V206.20M884.2 182.60V182.60M884.2 203.00V203.00M890.4 206.20V206.20M896.7 187.10V187.10M896.7 205.30V205.30M903.0 188.40V188.40M903.0 204.50V204.50M909.3 209.00V209.00M921.8 188.40V188.40M921.8 205.40V205.40M928.1 188.40V188.40M928.1 208.10V208.10M940.7 209.00V209.00M953.2 196.60V196.60M953.2 209.00V209.00" stroke="#2ae600" stroke-width="3.5" stroke-linecap="round" fill="none" shape-rendering="auto"/>
<path d="M915.6 207.20V207.20M934.4 209.90V209.90M947.0 208.10V208.10" stroke="#90ee00" stroke-width="3.5" stroke-linecap="round" fill="none" shape-rendering="auto"/>
<path d="M959.5 202.10V202.10M959.5 209.90V209.90M965.8 200.30V200.30M965.8 209.90V209.90M972.1 203.70V203.70M972.1 204.40V204.40M972.1 210.70V210.70M972.1 210.70V210.70M978.3 203.10V203.10M978.3 203.90V203.90M978.3 209.60V209.60M978.3 209.60V209.60M984.6 203.40V203.40M984.6 203.40V203.40M984.6 207.00V207.00M984.6 207.00V207.00M990.9 212.10V212.10M990.9 212.10V212.10M997.2 204.50V204.50M997.2 204.50V204.50M1009.7 205.50V205.50M1009.7 205.50V205.50M1009.7 212.50V212.50M1009.7 212.50V212.50M1022.3 208.80V208.80M1022.3 208.80V208.80M1022.3 213.60V213.60M1022.3 213.60V213.60M1028.6 213.60V213.60M1028.6 213.60V213.60M1034.9 211.00V211.00M1034.9 212.50V212.50" stroke="#d7fc00" stroke-width="3.5" stroke-linecap="round" fill="none" shape-rendering="auto"/>
<path d="M155.5 77.5L1034.9 205.7" stroke="#000" stroke-width="2" fill="none" shape-rendering="crispEdges"/>
<path d="M144 31.5H156M144 84.5H156M144 138.5H156M144 191.5H156M144 245.5H156M144 298.5H156M144 352.5H156M144 405.5H156M144 459.5H156M155.5 459V465M331.5 459V465M507.5 459V465M683.5 459V465M859.5 459V465M1034.5 459V465" stroke="#000" stroke-width="1" fill="none"/>
<text x="88.50 100.50 112.50 118.50 130.50" y="38">16.00</text>
<text x="88.50 100.50 112.50 118.50 130.50" y="91">14.00</text>
<text x="88.50 100.50 112.50 118.50 130.50" y="145">12.00</text>
<text x="88.50 100.50 112.50 118.50 130.50" y="198">10.00</text>
<text x="100.50 112.50 118.50 130.50" y="252">8.00</text>
<text x="100.50 112.50 118.50 130.50" y="305">6.00</text>
<text x="100.50 112.50 118.50 130.50" y="359">4.00</text>
<text x="100.50 112.50 118.50 130.50" y="412">2.00</text>
<text x="100.50 112.50 118.50 130.50" y="466">0.00</text>
<text x="143.60 156.00" y="488">20</text>
<text x="319.60 332.00" y="488">35</text>
<text x="495.60 508.00" y="488">50</text>
<text x="671.60 684.00" y="488">65</text>
<text x="847.60 860.00" y="488">81</text>
<text x="1022.60 1035.00" y="488">96</text>
<text x="595" y="521" text-anchor="middle">Internal Temperature (F)</text>
<text transform="translate(60 0) rotate(-90)" x="-324.00 -311.07 -305.70 -300.34 -294.50 -290.74 -282.17 -269.84 -263.18 -252.26 -240.93 -236.59 -228.50 -222.80 -217.00 -212.43 -205.63 -194.60 -183.68 -172.98" y="0">Tilt (y-axis ) (deg)</text>
</svg></body></html>
